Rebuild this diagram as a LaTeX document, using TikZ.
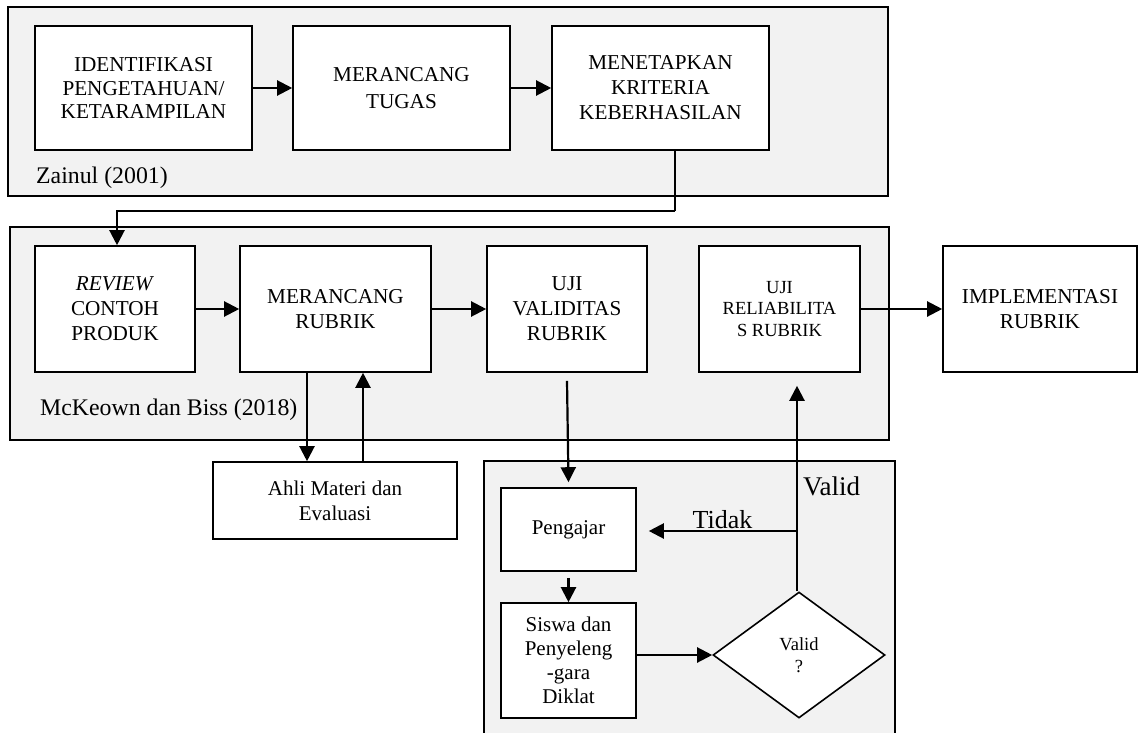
\documentclass[tikz,border=0pt]{standalone}
\usepackage{fontspec}
\setmainfont{Liberation Serif}
\usetikzlibrary{arrows.meta,shapes.geometric}
\definecolor{grp}{HTML}{F2F2F2}
\tikzset{
  grpbox/.style={draw, fill=grp, line width=1.4pt},
  box/.style={draw, fill=white, line width=1.6pt, align=center, inner sep=0pt, font=\fontsize{21.2}{25}\selectfont},
  sbox/.style={draw, fill=white, line width=1.6pt, align=center, inner sep=0pt, font=\fontsize{21}{24}\selectfont},
  arr/.style={line width=2.2pt, -{Triangle[length=15pt,width=15pt]}},
  ln/.style={line width=2.2pt},
  lbl/.style={font=\fontsize{23.8}{28}\selectfont, inner sep=0pt}
}
\begin{document}
\begin{tikzpicture}[x=1pt,y=-1pt]
\useasboundingbox (0,0) rectangle (1140,733);
\clip (0,0) rectangle (1140,733);
% groups
\draw[grpbox] (8,7) rectangle (888,196);
\draw[grpbox] (10,227) rectangle (889,440);
\draw[grpbox] (484,461) rectangle (895,760);
\node[lbl, anchor=base west] (zn) at (36,183) {Zainul (2001)};
\node[lbl, anchor=base west] (mb) at (40,415) {McKeown dan Biss (2018)};
% top row
\node[box, minimum width=217, minimum height=124, font=\fontsize{21.2}{23.4}\selectfont] (id) at (143.5,88) {IDENTIFIKASI\\PENGETAHUAN/\\KETARAMPILAN};
\node[box, minimum width=217, minimum height=124, font=\fontsize{21.2}{26.5}\selectfont] (mt) at (401.5,88) {MERANCANG\\TUGAS};
\node[box, minimum width=217, minimum height=124] (mk) at (660.5,88) {MENETAPKAN\\KRITERIA\\KEBERHASILAN};
% middle row
\node[box, minimum width=160, minimum height=126] (rv) at (115,309) {\textit{REVIEW}\\CONTOH\\PRODUK};
\node[box, minimum width=191, minimum height=126] (mr) at (335.5,309) {MERANCANG\\RUBRIK};
\node[box, minimum width=160, minimum height=126] (uv) at (567,309) {UJI\\VALIDITAS\\RUBRIK};
\node[box, minimum width=161, minimum height=126, font=\fontsize{18.5}{21.7}\selectfont] (ur) at (779.5,309) {UJI\\RELIABILITA\\S RUBRIK};
\node[box, minimum width=194, minimum height=126] (im) at (1040,309) {IMPLEMENTASI\\RUBRIK};
% lower
\node[sbox, minimum width=244, minimum height=77, font=\fontsize{21}{25}\selectfont] (ah) at (335,500.5) {Ahli Materi dan\\Evaluasi};
\node[sbox, minimum width=135, minimum height=83] (pj) at (568.5,529.5) {Pengajar};
\node[sbox, minimum width=135, minimum height=115] (sw) at (568.5,660.5) {Siswa dan\\Penyeleng\\-gara\\Diklat};
\node[draw, fill=white, line width=1.6pt, shape=diamond, minimum width=172, minimum height=126, aspect=1.365, inner sep=0pt, align=center, font=\fontsize{18.5}{21.7}\selectfont] (dm) at (799,655) {Valid\\?};
% connectors
\draw[arr] (id.east) -- (mt.west);
\draw[arr] (mt.east) -- (mk.west);
\draw[ln] ([xshift=14.5pt]mk.south) -- ++(0,60) coordinate (c1);
\draw[arr] (c1) -| ([xshift=2pt]rv.north);
\draw[arr] (rv.east) -- (mr.west);
\draw[arr] (mr.east) -- (uv.west);
\draw[arr] (ur.east) -- (im.west);
\draw[arr] ([xshift=-28.5pt]mr.south) -- ([xshift=-28.5pt]mr.south |- ah.north);
\draw[arr] ([xshift=27.5pt]mr.south |- ah.north) -- ([xshift=27.5pt]mr.south);
\draw[arr] ([yshift=-8pt]uv.south) -- ([yshift=5pt]pj.north);
\draw[arr] ([yshift=-6pt]pj.south) -- (sw.north);
\draw[arr] (sw.east |- dm.west) -- (dm.west);
\draw[arr] ([xshift=-2pt]dm.north) -- ([xshift=-2pt,yshift=-13pt]dm.north |- ur.south);
\coordinate (tj) at ([xshift=-2pt]dm.north |- 0,531);
\draw[arr] (tj) -- ([xshift=12pt]pj.east |- tj);
\node[lbl, anchor=base west, font=\fontsize{27}{30}\selectfont] (vl) at (803,495) {Valid};
\node[lbl, anchor=base, font=\fontsize{26}{30}\selectfont] (td) at (722.5,528) {Tidak};
\end{tikzpicture}
\end{document}
